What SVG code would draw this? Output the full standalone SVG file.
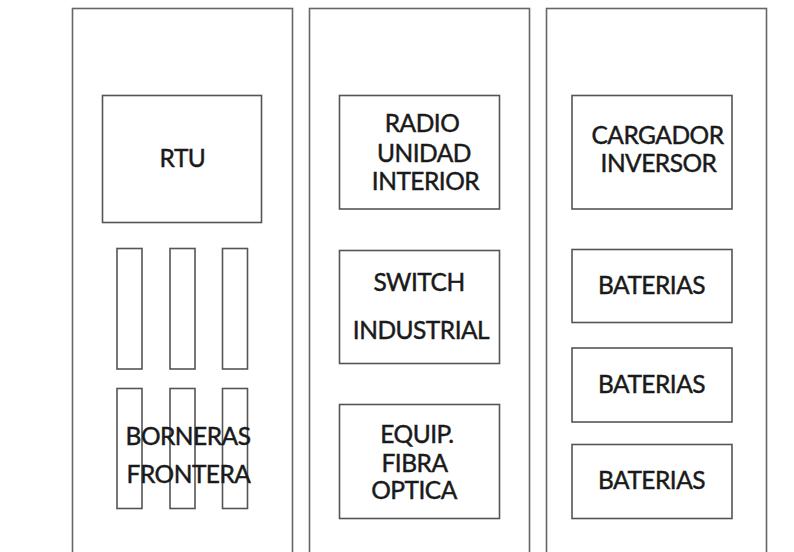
<svg xmlns="http://www.w3.org/2000/svg" width="794" height="552" viewBox="0 0 794 552">
<style>
.panel{fill:#fff;stroke:#666;stroke-width:1.6}
.box{fill:#fff;stroke:#555;stroke-width:1.6}
.strip{fill:none;stroke:#555;stroke-width:1.6}
text{font-family:Lato,"Open Sans",sans-serif;font-size:24.5px;letter-spacing:-0.5px;fill:#1a1a1a;stroke:#1a1a1a;stroke-width:0.45;text-anchor:middle}
</style>
<rect width="794" height="552" fill="#fff"/>
<g id="panel-left">
<rect class="panel" x="72.5" y="8.5" width="220" height="560"/>
</g>
<g id="panel-middle">
<rect class="panel" x="309.5" y="8.5" width="220" height="560"/>
</g>
<g id="panel-right">
<rect class="panel" x="546.5" y="8.5" width="220" height="560"/>
</g>
<g id="rtu">
<rect class="box" x="102.5" y="95.5" width="159" height="127"/>
<text x="182.5" y="166.5">RTU</text>
</g>
<g id="borneras">
<rect class="strip" x="117" y="248.5" width="25" height="120.5"/>
<rect class="strip" x="170" y="248.5" width="25" height="120.5"/>
<rect class="strip" x="222.5" y="248.5" width="25" height="120.5"/>
<rect class="strip" x="117" y="388.5" width="25" height="120"/>
<rect class="strip" x="170" y="388.5" width="25" height="120"/>
<rect class="strip" x="222.5" y="388.5" width="25" height="120"/>
<text x="188" y="445">BORNERAS</text>
<text x="188.5" y="483">FRONTERA</text>
</g>
<g id="radio">
<rect class="box" x="339.5" y="95.5" width="160" height="113.5"/>
<text x="422" y="131.5">RADIO</text>
<text x="424" y="161.5">UNIDAD</text>
<text x="425.5" y="190">INTERIOR</text>
</g>
<g id="switch">
<rect class="box" x="339.5" y="250.5" width="160" height="113"/>
<text x="419" y="291">SWITCH</text>
<text x="421" y="339">INDUSTRIAL</text>
</g>
<g id="fibra">
<rect class="box" x="339.5" y="404.5" width="160" height="114"/>
<text x="417" y="443">EQUIP.</text>
<text x="414.5" y="471.5">FIBRA</text>
<text x="414" y="499">OPTICA</text>
</g>
<g id="cargador">
<rect class="box" x="572" y="95.5" width="160" height="113.5"/>
<text x="657.5" y="144">CARGADOR</text>
<text x="658.5" y="171.5">INVERSOR</text>
</g>
<g id="baterias-1">
<rect class="box" x="572" y="249.5" width="160" height="73"/>
<text x="651.5" y="294">BATERIAS</text>
</g>
<g id="baterias-2">
<rect class="box" x="572" y="348" width="160" height="74"/>
<text x="651.5" y="393">BATERIAS</text>
</g>
<g id="baterias-3">
<rect class="box" x="572" y="444.5" width="160" height="74"/>
<text x="651.5" y="489">BATERIAS</text>
</g>
<g id="connectors"></g>
</svg>
